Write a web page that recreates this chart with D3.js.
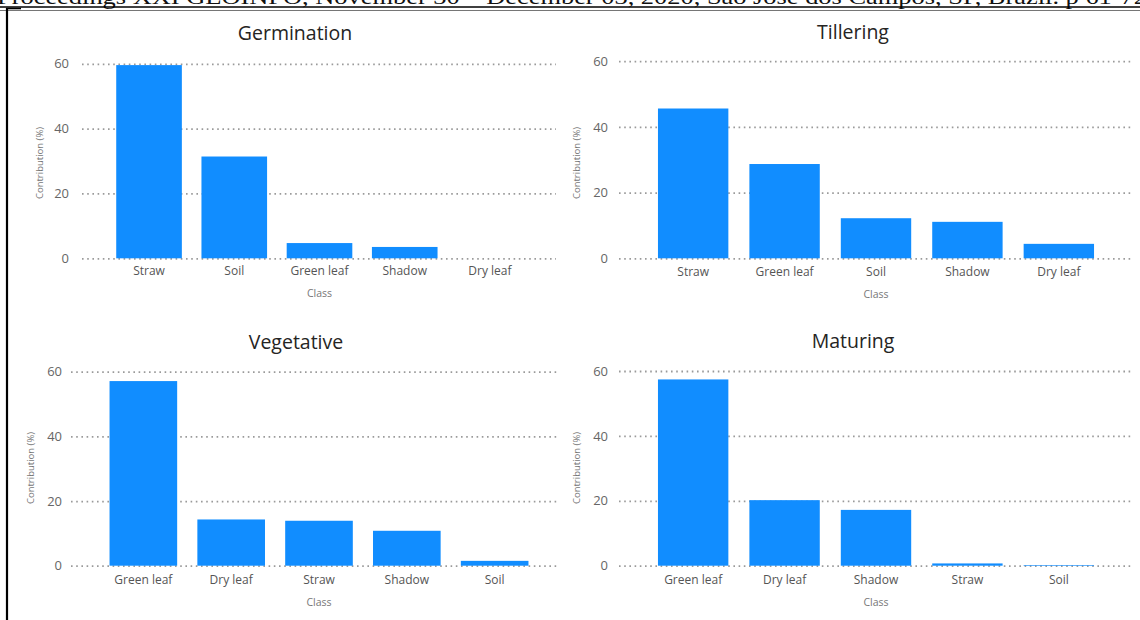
<!DOCTYPE html>
<html><head><meta charset="utf-8">
<script src="https://cdn.jsdelivr.net/npm/d3@7"></script>
<style>body{margin:0;background:#fff;} svg{display:block;}</style>
</head><body><svg id="c" width="1140" height="620"></svg>
<script>
const captionText = "Proceedings XXI GEOINFO, November 30 – December 03, 2020, São José dos Campos, SP, Brazil. p 61-72";
const stageTitles = ["Germination", "Tillering", "Vegetative", "Maturing"];
const germinationClasses = ["Straw", "Soil", "Green leaf", "Shadow", "Dry leaf"];
const germinationValues = [59.6, 31.4, 4.7, 3.5, 0];
const tilleringClasses = ["Straw", "Green leaf", "Soil", "Shadow", "Dry leaf"];
const tilleringValues = [45.6, 28.7, 12.2, 11.1, 4.4];
const vegetativeClasses = ["Green leaf", "Dry leaf", "Straw", "Shadow", "Soil"];
const vegetativeValues = [57.1, 14.3, 13.9, 10.8, 1.5];
const maturingClasses = ["Green leaf", "Dry leaf", "Shadow", "Straw", "Soil"];
const maturingValues = [57.4, 20.2, 17.2, 0.7, 0.2];
const yTickValues = [0, 20, 40, 60];
const yAxisTitle = "Contribution (%)";
const xAxisTitle = "Class";

const panelClasses = [germinationClasses, tilleringClasses, vegetativeClasses, maturingClasses];
const panelValues = [germinationValues, tilleringValues, vegetativeValues, maturingValues];

const layouts = [
  {gx0:82, gx1:556, bx0:106, bx1:533, y0:258.3, y60:63.8, tickR:69, ytX:40, ytY:163, titleX:295, titleY:33, labY:273, classY:293},
  {gx0:619, gx1:1133, bx0:647, bx1:1105, y0:258.3, y60:61.2, tickR:608, ytX:577, ytY:163, titleX:853, titleY:32, labY:274, classY:294},
  {gx0:71, gx1:558, bx0:99, bx1:539, y0:565.7, y60:371.7, tickR:62, ytX:31, ytY:468, titleX:296, titleY:342, labY:582, classY:602},
  {gx0:619, gx1:1132, bx0:647, bx1:1105, y0:565.7, y60:371, tickR:608, ytX:577, ytY:468, titleX:853, titleY:341, labY:582, classY:602}
];

const svg = d3.select("#c");
svg.append("rect").attr("width",1140).attr("height",620).attr("fill","#fff");

// clipped caption and frame
svg.append("text").attr("x",-3).attr("y",4)
  .attr("font-family","Liberation Serif, serif").attr("font-size",21)
  .attr("textLength",1150).attr("lengthAdjust","spacingAndGlyphs")
  .attr("fill","#111").text(captionText);
svg.append("line").attr("x1",0).attr("x2",1140).attr("y1",7).attr("y2",7).attr("stroke","#000").attr("stroke-width",1.4);
svg.append("line").attr("x1",0).attr("x2",1140).attr("y1",10.5).attr("y2",10.5).attr("stroke","#666").attr("stroke-width",0.9);
svg.append("line").attr("x1",7).attr("x2",7).attr("y1",8).attr("y2",620).attr("stroke","#000").attr("stroke-width",2.2);
svg.append("line").attr("x1",6).attr("x2",21).attr("y1",8.5).attr("y2",8.5).attr("stroke","#000").attr("stroke-width",1.6);

const font = "'Open Sans', 'Segoe UI', sans-serif";

layouts.forEach((L, i) => {
  const g = svg.append("g");
  const y = d3.scaleLinear().domain([0, 60]).range([L.y0, L.y60]);
  const x = d3.scaleBand().domain(panelClasses[i]).range([L.bx0, L.bx1]).paddingInner(0.23).paddingOuter(0.12);

  // y axis with gridlines
  const ya = g.append("g").attr("transform", `translate(${L.gx0},0)`)
    .call(d3.axisLeft(y).tickValues(yTickValues).tickSize(-(L.gx1 - L.gx0)).tickPadding(L.gx0 - L.tickR).tickFormat(d3.format("d")));
  ya.select(".domain").remove();
  ya.selectAll(".tick line").attr("stroke","#9a9a9a").attr("stroke-width",1.8).attr("stroke-dasharray","1.6,3.6");
  ya.selectAll(".tick text").attr("fill","#666").attr("font-size",13).attr("font-family",font);

  // bars
  g.selectAll("rect.bar").data(panelClasses[i].map((c, j) => ({c, v: panelValues[i][j]})))
    .join("rect").attr("class","bar")
    .attr("x", d => x(d.c)).attr("width", x.bandwidth())
    .attr("y", d => y(d.v)).attr("height", d => y(0) - y(d.v))
    .attr("fill", "#118DFF");

  // x axis
  const xa = g.append("g").attr("transform", `translate(0,${L.y0})`)
    .call(d3.axisBottom(x).tickSize(0).tickPadding(L.labY - L.y0 - 7));
  xa.select(".domain").remove();
  xa.selectAll(".tick text").attr("fill","#555").attr("font-size",12).attr("font-family",font);

  // titles
  g.append("text").attr("x", L.titleX).attr("y", L.titleY).attr("dy","0.35em")
    .attr("text-anchor","middle").attr("font-family",font).attr("font-size",19.5)
    .attr("fill","#252423").text(stageTitles[i]);
  g.append("text").attr("x", (L.bx0 + L.bx1) / 2).attr("y", L.classY).attr("dy","0.35em")
    .attr("text-anchor","middle").attr("font-family",font).attr("font-size",10.5)
    .attr("fill","#777").text(xAxisTitle);
  g.append("text").attr("transform", `translate(${L.ytX},${L.ytY}) rotate(-90)`).attr("dy","0.35em")
    .attr("text-anchor","middle").attr("font-family",font).attr("font-size",9.5)
    .attr("fill","#777").text(yAxisTitle);
});
</script></body></html>
